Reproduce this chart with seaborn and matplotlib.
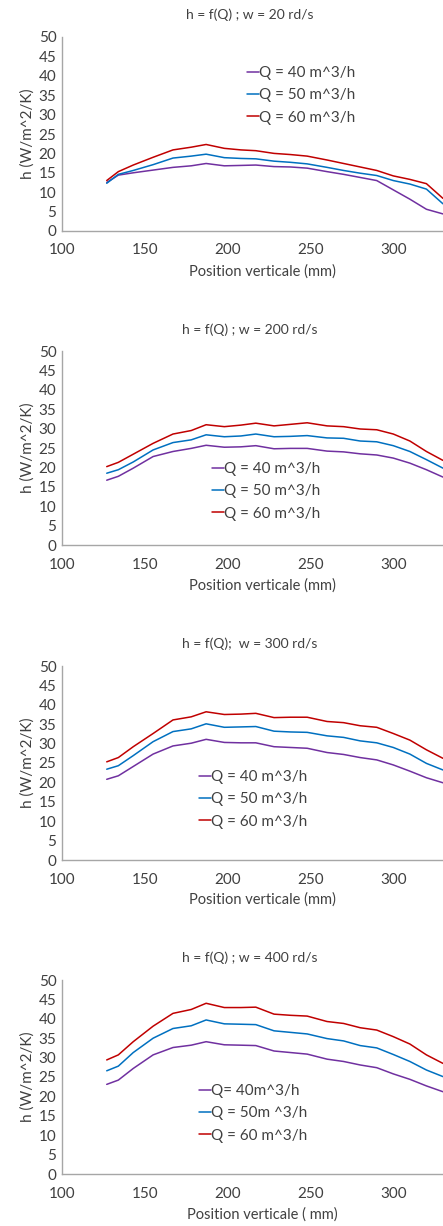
import pandas as pd
import numpy as np
import matplotlib.pyplot as plt
import seaborn as sns

sns.set_style('white')
plt.rcParams['font.family'] = ['Lato', 'DejaVu Sans']

position = [127, 134, 143, 155, 167, 178, 187, 198, 208, 217, 228, 238, 248, 260, 270, 280, 290, 300, 310, 320, 330]

# w = 20 rd/s
h20_q40 = [12.5, 14.4, 15.0, 15.7, 16.4, 16.8, 17.4, 16.8, 16.9, 17.0, 16.6, 16.5, 16.2, 15.3, 14.6, 13.8, 13.0, 10.6, 8.2, 5.6, 4.4]
h20_q50 = [12.3, 14.6, 15.6, 17.1, 18.8, 19.3, 19.8, 18.9, 18.7, 18.6, 18.0, 17.7, 17.3, 16.4, 15.6, 14.9, 14.3, 13.0, 12.1, 10.8, 7.0]
h20_q60 = [13.0, 15.3, 17.0, 19.0, 20.9, 21.6, 22.3, 21.3, 20.9, 20.7, 20.0, 19.7, 19.3, 18.3, 17.4, 16.5, 15.6, 14.2, 13.3, 12.2, 8.4]

# w = 200 rd/s
h200_q40 = [16.7, 17.7, 19.8, 22.8, 24.1, 24.9, 25.7, 25.2, 25.3, 25.6, 24.8, 24.9, 24.9, 24.2, 24.0, 23.5, 23.2, 22.4, 21.1, 19.4, 17.5]
h200_q50 = [18.5, 19.4, 21.4, 24.5, 26.4, 27.1, 28.4, 27.9, 28.1, 28.6, 27.9, 28.0, 28.2, 27.6, 27.5, 26.8, 26.6, 25.6, 24.1, 22.0, 19.8]
h200_q60 = [20.2, 21.3, 23.4, 26.2, 28.6, 29.5, 31.0, 30.5, 30.9, 31.4, 30.7, 31.1, 31.5, 30.7, 30.5, 29.9, 29.7, 28.6, 26.8, 24.1, 21.8]

# w = 300 rd/s
h300_q40 = [20.8, 21.7, 24.1, 27.3, 29.4, 30.1, 31.1, 30.3, 30.2, 30.2, 29.2, 29.0, 28.8, 27.7, 27.2, 26.4, 25.8, 24.5, 22.9, 21.2, 19.9]
h300_q50 = [23.4, 24.3, 26.9, 30.5, 33.1, 33.8, 35.1, 34.2, 34.3, 34.4, 33.2, 33.0, 32.9, 32.0, 31.6, 30.7, 30.2, 29.0, 27.3, 24.9, 23.2]
h300_q60 = [25.3, 26.4, 29.2, 32.6, 36.1, 36.9, 38.2, 37.5, 37.6, 37.8, 36.7, 36.8, 36.8, 35.7, 35.4, 34.6, 34.2, 32.6, 30.9, 28.4, 26.2]

# w = 400 rd/s
h400_q40 = [23.1, 24.2, 27.2, 30.7, 32.6, 33.2, 34.1, 33.3, 33.2, 33.1, 31.7, 31.3, 30.9, 29.6, 29.0, 28.1, 27.4, 25.8, 24.4, 22.7, 21.2]
h400_q50 = [26.6, 27.8, 31.3, 35.0, 37.5, 38.2, 39.7, 38.7, 38.6, 38.5, 36.9, 36.5, 36.1, 34.9, 34.3, 33.1, 32.5, 30.8, 29.0, 26.8, 25.1]
h400_q60 = [29.4, 30.7, 34.1, 38.1, 41.4, 42.4, 44.0, 42.9, 42.9, 43.0, 41.2, 40.9, 40.7, 39.3, 38.8, 37.7, 37.1, 35.4, 33.5, 30.7, 28.5]

titles = ['h = f(Q) ; w = 20 rd/s', 'h = f(Q) ; w = 200 rd/s',
          'h = f(Q);  w = 300 rd/s', 'h = f(Q) ; w = 400 rd/s']
xlabels = ['Position verticale (mm)', 'Position verticale (mm)',
           'Position verticale (mm)', 'Position verticale ( mm)']
labels_std = ['Q = 40 m^3/h', 'Q = 50 m^3/h', 'Q = 60 m^3/h']
labels_400 = ['Q= 40m^3/h', 'Q = 50m ^3/h', 'Q = 60 m^3/h']
colors = ['#7030A0', '#0070C0', '#C00000']

panels = [
    (h20_q40, h20_q50, h20_q60),
    (h200_q40, h200_q50, h200_q60),
    (h300_q40, h300_q50, h300_q60),
    (h400_q40, h400_q50, h400_q60),
]
panel_labels = [labels_std, labels_std, labels_std, labels_400]

W, H = 443, 1226
fig = plt.figure(figsize=(W / 100, H / 100), dpi=100)

# axes box in pixels: (top, bottom), left edge and legend anchor
boxes = [(37, 231), (351, 545), (666, 860), (980, 1174)]
legend_xy = [(247, 66), (212, 462), (199, 770), (199, 1084)]
title_y = [15, 330, 644, 958]
xlabel_y = [272, 586, 900, 1215]
ax_left = 62

text_col = '#404040'

for i, series in enumerate(panels):
    top, bottom = boxes[i]
    ax = fig.add_axes([ax_left / W, 1 - bottom / H, (W - ax_left) / W, (bottom - top) / H])
    df = pd.DataFrame({'Position': position * 3,
                       'h': series[0] + series[1] + series[2],
                       'Q': sum([[lab] * len(position) for lab in panel_labels[i]], [])})
    sns.lineplot(data=df, x='Position', y='h', hue='Q', palette=colors,
                 linewidth=1.1, ax=ax)
    ax.set_xlim(100, 330)
    ax.set_ylim(0, 50)
    ax.set_xticks([100, 150, 200, 250, 300])
    ax.set_yticks(np.arange(0, 51, 5))
    ax.tick_params(axis='both', length=0, labelsize=11, colors=text_col, pad=4)
    ax.tick_params(axis='x', pad=9)
    for s in ['top', 'right']:
        ax.spines[s].set_visible(False)
    for s in ['left', 'bottom']:
        ax.spines[s].set_color('#A6A6A6')
        ax.spines[s].set_linewidth(1)
    ax.set_xlabel('')
    ax.set_ylabel('h (W/m^2/K)', fontsize=11, color=text_col, labelpad=3)
    fig.text(250 / W, 1 - title_y[i] / H, titles[i], ha='center', va='center',
             fontsize=10, color=text_col)
    fig.text(262 / W, 1 - xlabel_y[i] / H, xlabels[i], ha='center', va='center',
             fontsize=10.5, color=text_col)
    lx, ly = legend_xy[i]
    ax.legend(loc='upper left', bbox_to_anchor=(lx / W, 1 - ly / H),
              bbox_transform=fig.transFigure, frameon=False, fontsize=11,
              handlelength=0.8, handletextpad=0.0, labelspacing=0.55,
              borderpad=0, borderaxespad=0, labelcolor=text_col, title=None)

plt.savefig('out.png', dpi=100)
plt.close()
